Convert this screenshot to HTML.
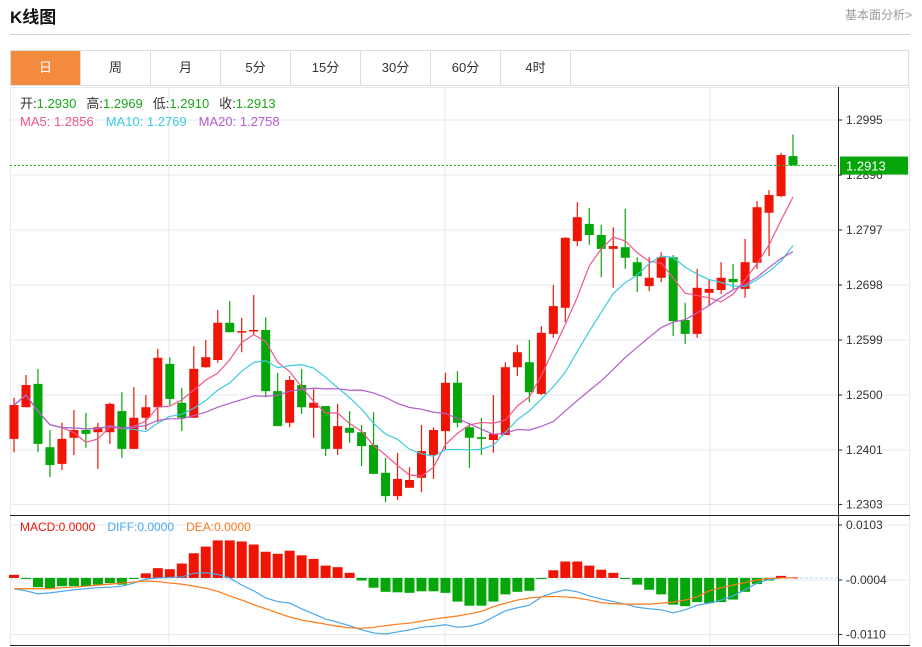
<!DOCTYPE html>
<html><head><meta charset="utf-8">
<style>
body{margin:0;background:#fff;font-family:"Liberation Sans","Noto Sans CJK SC",sans-serif;}
#wrap{position:relative;width:922px;height:647px;overflow:hidden;}
.title{position:absolute;left:10px;top:3px;font-size:17px;font-weight:bold;color:#111;}
.more{position:absolute;right:10px;top:6px;font-size:12px;color:#999;}
.hline{position:absolute;left:10px;top:34px;width:900px;height:1px;background:#d0d0d0;}
.tabs{position:absolute;left:10px;top:50px;width:899px;height:36px;border:1px solid #ddd;box-sizing:border-box;display:flex;}
.tab{width:70px;height:34px;line-height:34px;text-align:center;font-size:13px;color:#333;border-right:1px solid #ddd;box-sizing:border-box;}
.tab.active{background:#f28b3e;color:#fff;}
svg{position:absolute;left:0;top:0;}
</style></head><body>
<div id="wrap">
<div class="title">K线图</div>
<div class="more">基本面分析&gt;</div>
<div class="hline"></div>
<div class="tabs">
<div class="tab active">日</div>
<div class="tab">周</div>
<div class="tab">月</div>
<div class="tab">5分</div>
<div class="tab">15分</div>
<div class="tab">30分</div>
<div class="tab">60分</div>
<div class="tab">4时</div>
</div>
<svg id="chart" width="922" height="647"></svg>
</div>
<script>
const opens  = [1.2421,1.2478,1.2520,1.2406,1.2376,1.2423,1.2437,1.2433,1.2433,1.2471,1.2403,1.2459,1.2478,1.2556,1.2486,1.2459,1.2550,1.2563,1.2630,1.2613,1.2615,1.2617,1.2507,1.2450,1.2518,1.2477,1.2480,1.2403,1.2441,1.2433,1.2410,1.2360,1.2318,1.2333,1.2351,1.2392,1.2435,1.2522,1.2442,1.2424,1.2419,1.2428,1.2550,1.2559,1.2502,1.2610,1.2657,1.2777,1.2808,1.2788,1.2763,1.2766,1.2739,1.2696,1.2711,1.2748,1.2635,1.2610,1.2684,1.2689,1.2709,1.2691,1.2738,1.2828,1.2858,1.2930];
const highs  = [1.2495,1.2536,1.2547,1.2437,1.2450,1.2473,1.2468,1.2450,1.2486,1.2505,1.2514,1.2500,1.2583,1.2568,1.2513,1.2588,1.2599,1.2653,1.2669,1.2639,1.2680,1.2640,1.2540,1.2534,1.2547,1.2511,1.2480,1.2484,1.2471,1.2446,1.2469,1.2387,1.2396,1.2370,1.2446,1.2442,1.2540,1.2543,1.2450,1.2459,1.2500,1.2559,1.2590,1.2599,1.2624,1.2698,1.2784,1.2847,1.2837,1.2806,1.2802,1.2835,1.2748,1.2748,1.2757,1.2752,1.2666,1.2727,1.2709,1.2739,1.2736,1.2781,1.2849,1.2869,1.2936,1.2969];
const lows   = [1.2397,1.2478,1.2397,1.2352,1.2365,1.2392,1.2405,1.2367,1.2412,1.2387,1.2403,1.2437,1.2451,1.2482,1.2435,1.2459,1.2549,1.2558,1.2613,1.2577,1.2608,1.2496,1.2444,1.2442,1.2466,1.2423,1.2390,1.2392,1.2414,1.2372,1.2358,1.2307,1.2311,1.2333,1.2325,1.2349,1.2401,1.2442,1.2369,1.2392,1.2396,1.2428,1.2534,1.2487,1.2500,1.2603,1.2631,1.2768,1.2770,1.2712,1.2693,1.2727,1.2685,1.2687,1.2703,1.2606,1.2592,1.2603,1.2660,1.2682,1.2691,1.2675,1.2727,1.2750,1.2856,1.2913];
const closes = [1.2482,1.2518,1.2412,1.2374,1.2421,1.2437,1.2430,1.2442,1.2484,1.2403,1.2459,1.2478,1.2567,1.2493,1.2459,1.2547,1.2568,1.2630,1.2613,1.2615,1.2617,1.2507,1.2444,1.2527,1.2478,1.2486,1.2403,1.2444,1.2432,1.2408,1.2358,1.2318,1.2349,1.2347,1.2399,1.2437,1.2522,1.2450,1.2423,1.2421,1.2430,1.2550,1.2577,1.2505,1.2612,1.2660,1.2783,1.2820,1.2788,1.2763,1.2768,1.2747,1.2714,1.2711,1.2748,1.2633,1.2610,1.2693,1.2691,1.2711,1.2703,1.2739,1.2838,1.2860,1.2932,1.2913];
const macdHist = [0.0006,-0.0001,-0.0018,-0.0021,-0.0016,-0.0016,-0.0016,-0.0013,-0.0010,-0.0013,-0.0001,0.0009,0.0019,0.0017,0.0028,0.0048,0.0061,0.0073,0.0073,0.0071,0.0065,0.0051,0.0047,0.0053,0.0044,0.0037,0.0024,0.0021,0.0010,-0.0005,-0.0019,-0.0027,-0.0028,-0.0029,-0.0026,-0.0026,-0.0029,-0.0046,-0.0054,-0.0054,-0.0046,-0.0032,-0.0027,-0.0025,-0.0002,0.0015,0.0032,0.0032,0.0024,0.0016,0.0010,-0.0002,-0.0013,-0.0023,-0.0032,-0.0052,-0.0055,-0.0047,-0.0049,-0.0047,-0.0042,-0.0027,-0.0012,-0.0005,0.0004,0.0001];
const diffVals = [-0.0021,-0.0025,-0.0031,-0.0029,-0.0026,-0.0023,-0.0021,-0.0019,-0.0018,-0.0016,-0.0010,-0.0002,0.0000,0.0001,0.0002,0.0009,0.0010,0.0007,0.0000,-0.0014,-0.0025,-0.0039,-0.0046,-0.0049,-0.0060,-0.0070,-0.0080,-0.0086,-0.0093,-0.0101,-0.0107,-0.0109,-0.0105,-0.0101,-0.0096,-0.0094,-0.0091,-0.0096,-0.0094,-0.0088,-0.0076,-0.0064,-0.0058,-0.0053,-0.0037,-0.0029,-0.0023,-0.0027,-0.0035,-0.0041,-0.0046,-0.0051,-0.0057,-0.0060,-0.0062,-0.0068,-0.0062,-0.0053,-0.0049,-0.0043,-0.0035,-0.0023,-0.0010,-0.0003,0.0000,0.0000];
const deaVals = [-0.0021,-0.0021,-0.0021,-0.0021,-0.0019,-0.0018,-0.0016,-0.0014,-0.0012,-0.0010,-0.0008,-0.0006,-0.0007,-0.0010,-0.0012,-0.0016,-0.0020,-0.0026,-0.0035,-0.0043,-0.0052,-0.0060,-0.0068,-0.0076,-0.0082,-0.0086,-0.0090,-0.0094,-0.0097,-0.0098,-0.0096,-0.0093,-0.0090,-0.0088,-0.0084,-0.0080,-0.0077,-0.0074,-0.0070,-0.0065,-0.0056,-0.0049,-0.0043,-0.0039,-0.0037,-0.0036,-0.0037,-0.0039,-0.0043,-0.0048,-0.0050,-0.0051,-0.0051,-0.0051,-0.0049,-0.0047,-0.0043,-0.0037,-0.0025,-0.0019,-0.0014,-0.0009,-0.0004,-0.0001,0.0000,0.0000];
const priceTicks = [1.2995,1.2896,1.2797,1.2698,1.2599,1.2500,1.2401,1.2303];
const macdTicks = [0.0103,-0.0004,-0.0110];

const NS='http://www.w3.org/2000/svg';
const svg=document.getElementById('chart');
function mk(tag,attrs,parent){const e=document.createElementNS(NS,tag);for(const k in attrs)e.setAttribute(k,attrs[k]);(parent||svg).appendChild(e);return e;}
const RED='#f01405',GREEN='#05a60a';
const xOf=i=>14+i*11.985;
const yP=v=>120+(1.2995-v)/0.0099*55;
const yM=v=>580-(v+0.0004)/0.0107*55;

const grid=mk('g',{});


priceTicks.forEach(t=>{mk('line',{x1:10,x2:910,y1:yP(t),y2:yP(t),stroke:'#e3eaf0','stroke-width':1},grid);});
macdTicks.forEach(t=>{mk('line',{x1:10,x2:910,y1:yM(t),y2:yM(t),stroke:'#e3eaf0','stroke-width':1},grid);});
[169,445,710].forEach(x=>{mk('line',{x1:x,x2:x,y1:87,y2:645,stroke:'#e3eaf0','stroke-width':1},grid);});
mk('line',{x1:10.5,x2:10.5,y1:87,y2:645,stroke:'#e3eaf0'},grid);
mk('line',{x1:909.5,x2:909.5,y1:87,y2:645,stroke:'#e3eaf0'},grid);
mk('line',{x1:10,x2:910,y1:87.5,y2:87.5,stroke:'#e3eaf0'},grid);
mk('line',{x1:838.5,x2:838.5,y1:87,y2:645,stroke:'#222','stroke-width':1},grid);
mk('line',{x1:10,x2:910,y1:515.5,y2:515.5,stroke:'#222','stroke-width':1},grid);
mk('line',{x1:10,x2:910,y1:645.5,y2:645.5,stroke:'#222','stroke-width':1},grid);

priceTicks.forEach(t=>{
  const tx=mk('text',{x:846,y:yP(t)+4,'font-size':12,fill:'#333'});
  tx.textContent=t.toFixed(4);
  
  
  mk('line',{x1:838,x2:842,y1:yP(t),y2:yP(t),stroke:'#222'});
});
macdTicks.forEach(t=>{
  const tx=mk('text',{x:846,y:yM(t)+4,'font-size':12,fill:'#333'});
  tx.textContent=t.toFixed(4);
  
  
  mk('line',{x1:838,x2:842,y1:yM(t),y2:yM(t),stroke:'#222'});
});

const cg=mk('g',{});


closes.forEach((c,i)=>{
  const o=opens[i],up=c>=o,col=up?RED:GREEN,x=xOf(i);
  const g=mk('g',{},cg);
  
  
  mk('line',{x1:x,x2:x,y1:yP(highs[i]),y2:yP(lows[i]),stroke:col,'stroke-width':1.2},g);
  const t=Math.min(yP(o),yP(c)),h=Math.max(1.5,Math.abs(yP(o)-yP(c)));
  mk('rect',{x:x-4.5,y:t,width:9,height:h,fill:col},g);
});

function ma(n){return closes.map((_,i)=>{const s=closes.slice(Math.max(0,i-n+1),i+1);return s.reduce((a,b)=>a+b,0)/s.length;});}
[[5,'#f0568c','ma5-line'],[10,'#3ccbe0','ma10-line'],[20,'#b45ccc','ma20-line']].forEach(([n,col,name])=>{
  const v=ma(n);
  const p=mk('polyline',{points:v.map((m,i)=>xOf(i)+','+yP(m)).join(' '),fill:'none',stroke:col,'stroke-width':1.2});
  
  
});

const last=closes[closes.length-1];
const cl=mk('line',{x1:10,x2:838,y1:yP(last),y2:yP(last),stroke:'#1cc01c','stroke-dasharray':'2,2','stroke-width':1});


const lb=mk('rect',{x:840,y:yP(last)-9,width:68,height:18,fill:'#05a60a'});


const lt=mk('text',{x:846,y:yP(last)+5,'font-size':13,fill:'#fff'});
lt.textContent=last.toFixed(4);



const mg=mk('g',{});


mk('line',{x1:10,x2:838,y1:yM(0),y2:yM(0),stroke:'#aad8f0','stroke-dasharray':'3,2'},mg);
macdHist.forEach((h,i)=>{
  const y0=yM(0),y1=yM(h);
  const r=mk('rect',{x:xOf(i)-5,y:Math.min(y0,y1),width:10,height:Math.max(1,Math.abs(y1-y0)),fill:h>=0?RED:GREEN},mg);
  
  
});
const dl=mk('polyline',{points:diffVals.map((v,i)=>xOf(i)+','+yM(v)).join(' '),fill:'none',stroke:'#4aa8ee','stroke-width':1.2});


const el=mk('polyline',{points:deaVals.map((v,i)=>xOf(i)+','+yM(v)).join(' '),fill:'none',stroke:'#ff7a1a','stroke-width':1.2});



function legend(items,y,name){
  const t=mk('text',{x:20,y:y,'font-size':13});
  
  
  items.forEach(([s,c,dx])=>{const ts=mk('tspan',{fill:c},t);if(dx)ts.setAttribute('dx',dx);ts.textContent=s;});
}
legend([['开:','#333'],['1.2930','#1aa81a'],['高:','#333',10],['1.2969','#1aa81a'],['低:','#333',10],['1.2910','#1aa81a'],['收:','#333',10],['1.2913','#1aa81a']],108,'ohlc-legend');
legend([['MA5: 1.2856','#f0568c'],['MA10: 1.2769','#3ccbe0',12],['MA20: 1.2758','#b45ccc',12]],126,'ma-legend');
const ml=mk('text',{x:20,y:531,'font-size':12});


[['MACD:0.0000',RED,0],['DIFF:0.0000','#4aa8ee',12],['DEA:0.0000','#ff7a1a',12]].forEach(([s,c,dx])=>{const ts=mk('tspan',{fill:c,dx:dx},ml);ts.textContent=s;});
</script>
</body></html>
